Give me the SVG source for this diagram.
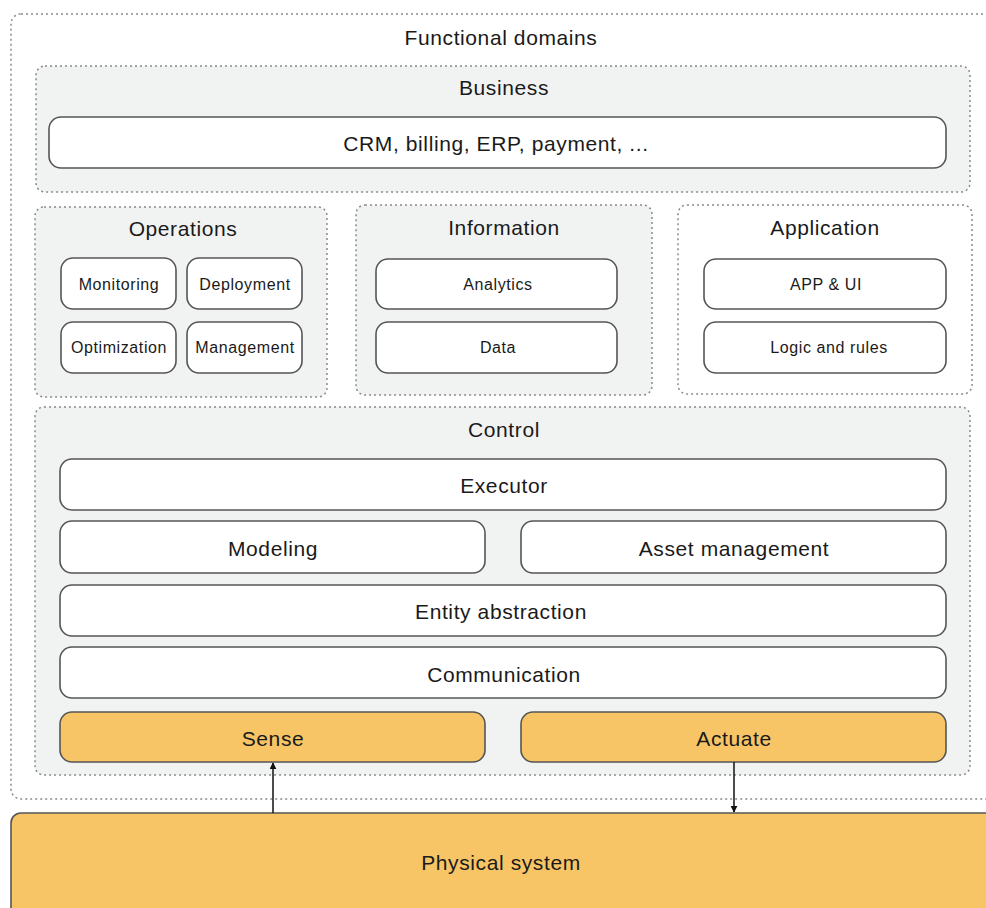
<svg xmlns="http://www.w3.org/2000/svg" width="986" height="908" viewBox="0 0 986 908">
<defs>
<style>
.dom{fill:#f1f3f3;stroke:#8a8a8a;stroke-width:1.5;stroke-dasharray:2 3}
.domw{fill:#ffffff;stroke:#8a8a8a;stroke-width:1.5;stroke-dasharray:2 3}
.box{fill:#ffffff;stroke:#555;stroke-width:1.6}
.org{fill:#f7c566;stroke:#555;stroke-width:1.6}
.t{font-family:"Liberation Sans",Arial,sans-serif;fill:#1a1a1a;text-anchor:middle;dominant-baseline:central;letter-spacing:0.6px}
.l{font-size:21px}
.s{font-size:16px}
.conn{stroke:#111;stroke-width:1.5;fill:none}
</style>
<marker id="ah" viewBox="0 0 10 10" refX="9" refY="5" markerWidth="7" markerHeight="7" orient="auto-start-reverse" markerUnits="userSpaceOnUse">
<path d="M0,0 L10,5 L0,10 z" fill="#111"/>
</marker>
</defs>
<rect width="986" height="908" fill="#ffffff"/>
<g id="functional-domains">
<rect class="domw" x="11" y="14" width="990" height="785" rx="10"/>
<text class="t l" x="501" y="37">Functional domains</text>
</g>
<g id="business">
<rect class="dom" x="36" y="66" width="934" height="126" rx="9"/>
<text class="t l" x="504" y="87">Business</text>
</g>
<g id="crm">
<rect class="box" x="49" y="117" width="897" height="51" rx="12"/>
<text class="t l" x="496" y="143">CRM, billing, ERP, payment, ...</text>
</g>
<g id="operations">
<rect class="dom" x="35" y="207" width="292" height="190" rx="9"/>
<text class="t l" x="183" y="228">Operations</text>
</g>
<g id="monitoring">
<rect class="box" x="61" y="258" width="115" height="51" rx="12"/>
<text class="t s" x="119" y="284">Monitoring</text>
</g>
<g id="deployment">
<rect class="box" x="187" y="258" width="115" height="51" rx="12"/>
<text class="t s" x="245" y="284">Deployment</text>
</g>
<g id="optimization">
<rect class="box" x="61" y="322" width="115" height="51" rx="12"/>
<text class="t s" x="119" y="347">Optimization</text>
</g>
<g id="management">
<rect class="box" x="187" y="322" width="115" height="51" rx="12"/>
<text class="t s" x="245" y="347">Management</text>
</g>
<g id="information">
<rect class="dom" x="356" y="205" width="296" height="190" rx="9"/>
<text class="t l" x="504" y="227">Information</text>
</g>
<g id="analytics">
<rect class="box" x="376" y="259" width="241" height="50" rx="12"/>
<text class="t s" x="498" y="284">Analytics</text>
</g>
<g id="data">
<rect class="box" x="376" y="322" width="241" height="51" rx="12"/>
<text class="t s" x="498" y="347">Data</text>
</g>
<g id="application">
<rect class="domw" x="678" y="205" width="294" height="189" rx="9"/>
<text class="t l" x="825" y="227">Application</text>
</g>
<g id="app-ui">
<rect class="box" x="704" y="259" width="242" height="50" rx="12"/>
<text class="t s" x="826" y="284">APP &amp; UI</text>
</g>
<g id="logic">
<rect class="box" x="704" y="322" width="242" height="51" rx="12"/>
<text class="t s" x="829" y="347">Logic and rules</text>
</g>
<g id="control">
<rect class="dom" x="35" y="407" width="935" height="368" rx="9"/>
<text class="t l" x="504" y="429">Control</text>
</g>
<g id="executor">
<rect class="box" x="60" y="459" width="886" height="51" rx="12"/>
<text class="t l" x="504" y="485">Executor</text>
</g>
<g id="modeling">
<rect class="box" x="60" y="521" width="425" height="52" rx="12"/>
<text class="t l" x="273" y="548">Modeling</text>
</g>
<g id="asset-management">
<rect class="box" x="521" y="521" width="425" height="52" rx="12"/>
<text class="t l" x="734" y="548">Asset management</text>
</g>
<g id="entity-abstraction">
<rect class="box" x="60" y="585" width="886" height="51" rx="12"/>
<text class="t l" x="501" y="611">Entity abstraction</text>
</g>
<g id="communication">
<rect class="box" x="60" y="647" width="886" height="51" rx="12"/>
<text class="t l" x="504" y="674">Communication</text>
</g>
<g id="sense">
<rect class="org" x="60" y="712" width="425" height="50" rx="12"/>
<text class="t l" x="273" y="738">Sense</text>
</g>
<g id="actuate">
<rect class="org" x="521" y="712" width="425" height="50" rx="12"/>
<text class="t l" x="734" y="738">Actuate</text>
</g>
<g id="physical-system">
<rect class="org" x="11" y="813" width="990" height="110" rx="10"/>
<text class="t l" x="501" y="862">Physical system</text>
</g>
<g id="connectors">
<line class="conn" x1="273" y1="813" x2="273" y2="763" marker-end="url(#ah)"/>
<line class="conn" x1="734" y1="762" x2="734" y2="812" marker-end="url(#ah)"/>
</g>
</svg>
